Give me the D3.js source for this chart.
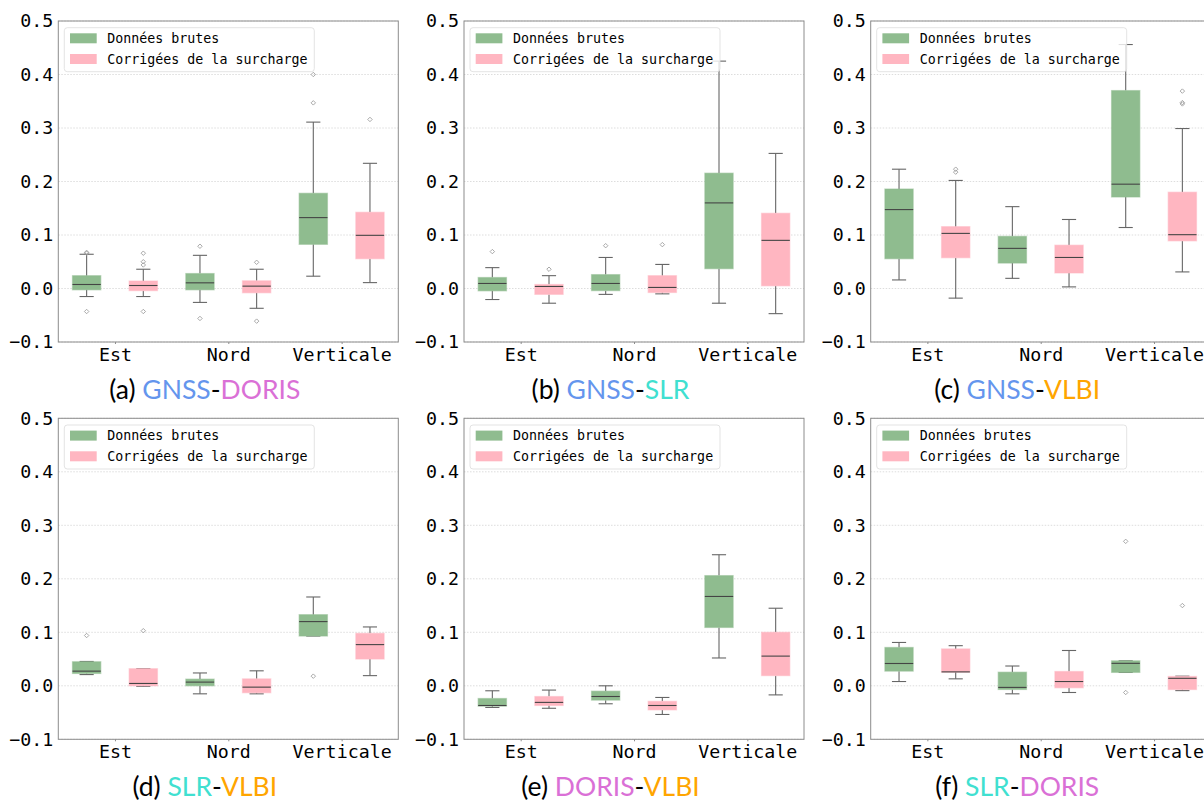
<!DOCTYPE html>
<html>
<head>
<meta charset="utf-8">
<script src="https://cdn.jsdelivr.net/npm/d3@7"></script>
<style>
  body { margin: 0; background: #fff; }
  svg { display: block; }
</style>
</head>
<body>
<div id="chart"></div>
<script>
// categories, series and ticks
const categories = ["Est", "Nord", "Verticale"];
const seriesNames = ["Données brutes", "Corrigées de la surcharge"];
const yTicks = [-0.1, 0.0, 0.1, 0.2, 0.3, 0.4, 0.5];

// panel captions: letter + technique pair
const panelLetters = ["a", "b", "c", "d", "e", "f"];
const panelPairs = [
    ["GNSS", "DORIS"], ["GNSS", "SLR"], ["GNSS", "VLBI"],
    ["SLR", "VLBI"], ["DORIS", "VLBI"], ["SLR", "DORIS"]
];

// box stats per category: [whisker low, q1, median, q3, whisker high]
const gnssDorisRaw = [[-0.015, -0.0025, 0.0075, 0.024, 0.064], [-0.026, -0.0025, 0.0106, 0.028, 0.062], [0.023, 0.0825, 0.1325, 0.178, 0.311]];
const gnssDorisCorr = [[-0.015, -0.004, 0.0056, 0.014, 0.036], [-0.037, -0.008, 0.0044, 0.0144, 0.036], [0.011, 0.0556, 0.0994, 0.1425, 0.234]];
const gnssSlrRaw = [[-0.0206, -0.0044, 0.0094, 0.0206, 0.039], [-0.011, -0.004, 0.0094, 0.026, 0.058], [-0.0275, 0.037, 0.16, 0.2156, 0.425]];
const gnssSlrCorr = [[-0.0275, -0.011, 0.0038, 0.0075, 0.024], [-0.01, -0.0075, 0.002, 0.024, 0.045], [-0.047, 0.005, 0.09, 0.1406, 0.2525]];
const gnssVlbiRaw = [[0.016, 0.0556, 0.1475, 0.186, 0.223], [0.019, 0.0475, 0.075, 0.0975, 0.153], [0.114, 0.171, 0.195, 0.37, 0.456]];
const gnssVlbiCorr = [[-0.018, 0.0575, 0.103, 0.1156, 0.202], [0.003, 0.029, 0.058, 0.081, 0.129], [0.031, 0.089, 0.1006, 0.18, 0.299]];
const slrVlbiRaw = [[0.021, 0.023, 0.0274, 0.045, 0.0455], [-0.015, 0.0, 0.0069, 0.0125, 0.024], [0.093, 0.093, 0.12, 0.133, 0.166]];
const slrVlbiCorr = [[-0.001, 0.0, 0.0044, 0.032, 0.032], [-0.015, -0.013, -0.0025, 0.013, 0.028], [0.019, 0.05, 0.077, 0.098, 0.11]];
const dorisVlbiRaw = [[-0.0405, -0.038, -0.0368, -0.0237, -0.0093], [-0.0336, -0.0268, -0.02, -0.01, 0.0], [0.052, 0.109, 0.167, 0.206, 0.245]];
const dorisVlbiCorr = [[-0.042, -0.0368, -0.031, -0.02, -0.008], [-0.0536, -0.045, -0.0368, -0.029, -0.0218], [-0.017, 0.019, 0.0555, 0.1, 0.145]];
const slrDorisRaw = [[0.008, 0.0274, 0.0417, 0.0717, 0.081], [-0.015, -0.0069, -0.003, 0.0255, 0.037], [0.025, 0.025, 0.042, 0.0467, 0.0467]];
const slrDorisCorr = [[0.013, 0.0255, 0.026, 0.069, 0.075], [-0.0125, -0.0037, 0.008, 0.0268, 0.066], [-0.009, -0.007, 0.014, 0.0175, 0.018]];

// outliers per category
const gnssDorisRawOut = [[0.0675, 0.066, -0.043], [0.079, -0.056], [0.4, 0.347]];
const gnssDorisCorrOut = [[0.066, 0.05, 0.044, -0.043], [0.049, -0.061], [0.316]];
const gnssSlrRawOut = [[0.069], [0.08], []];
const gnssSlrCorrOut = [[0.036], [0.082], []];
const gnssVlbiRawOut = [[], [], []];
const gnssVlbiCorrOut = [[0.223, 0.2175], [], [0.369, 0.3475, 0.345]];
const slrVlbiRawOut = [[0.094], [], [0.018]];
const slrVlbiCorrOut = [[0.103], [], []];
const dorisVlbiRawOut = [[], [], []];
const dorisVlbiCorrOut = [[], [], []];
const slrDorisRawOut = [[], [], [0.27, -0.0125]];
const slrDorisCorrOut = [[], [], [0.15]];

const panelStats = [
    [gnssDorisRaw, gnssDorisCorr], [gnssSlrRaw, gnssSlrCorr], [gnssVlbiRaw, gnssVlbiCorr],
    [slrVlbiRaw, slrVlbiCorr], [dorisVlbiRaw, dorisVlbiCorr], [slrDorisRaw, slrDorisCorr]
];
const panelOutliers = [
    [gnssDorisRawOut, gnssDorisCorrOut], [gnssSlrRawOut, gnssSlrCorrOut], [gnssVlbiRawOut, gnssVlbiCorrOut],
    [slrVlbiRawOut, slrVlbiCorrOut], [dorisVlbiRawOut, dorisVlbiCorrOut], [slrDorisRawOut, slrDorisCorrOut]
];

// styles
const seriesColors = ["#8fbc8f", "#ffb6c1"],
    techColors = { GNSS: "#6495ed", DORIS: "#da70d6", SLR: "#40e0d0", VLBI: "#ffa500" },
    spineColor = "#8c8c8c",
    whiskerColor = "#666",
    medianColor = "#444",
    monoFont = "'DejaVu Sans Mono', monospace",
    captionFont = "Lato, 'Open Sans', sans-serif";

const W = 1204, H = 802;
const plotW = 340, plotH = 321;
const colLeft = [58.3, 464, 870.7],
    rowTop = [21, 418.3];
const offset = 0.25, boxW = 0.25;

var svg = d3.select("#chart").append("svg")
    .attr("width", W)
    .attr("height", H);

panelStats.forEach((stats, p) => {
    const left = colLeft[p % 3], top = rowTop[Math.floor(p / 3)];

    var x = d3.scaleLinear().domain([0.5, 3.5]).range([left, left + plotW]);
    var y = d3.scaleLinear().domain([-0.1, 0.5]).range([top + plotH, top]);
    const unit = x(1) - x(0);

    var g = svg.append("g").attr("class", "panel");

    // horizontal grid
    g.append("g")
        .selectAll("line")
        .data(yTicks)
        .enter()
        .append("line")
        .attr("x1", left).attr("x2", left + plotW)
        .attr("y1", d => y(d)).attr("y2", d => y(d))
        .attr("stroke", "#cfcfcf")
        .attr("stroke-width", 0.7)
        .attr("stroke-dasharray", "1.5,1.5");

    // boxes for both series
    stats.forEach((series, s) => {
        const sg = g.append("g");
        const cx = i => x(i + 1) + (s === 0 ? -offset : offset) * unit;
        const half = boxW * unit / 2;

        // whiskers
        sg.selectAll(".wlo").data(series).enter().append("line")
            .attr("x1", (d, i) => cx(i)).attr("x2", (d, i) => cx(i))
            .attr("y1", d => y(d[0])).attr("y2", d => y(d[1]))
            .attr("stroke", whiskerColor).attr("stroke-width", 1.1);
        sg.selectAll(".whi").data(series).enter().append("line")
            .attr("x1", (d, i) => cx(i)).attr("x2", (d, i) => cx(i))
            .attr("y1", d => y(d[3])).attr("y2", d => y(d[4]))
            .attr("stroke", whiskerColor).attr("stroke-width", 1.1);
        // caps
        [0, 4].forEach(k => {
            sg.selectAll(".cap" + k).data(series).enter().append("line")
                .attr("x1", (d, i) => cx(i) - half / 2).attr("x2", (d, i) => cx(i) + half / 2)
                .attr("y1", d => y(d[k])).attr("y2", d => y(d[k]))
                .attr("stroke", whiskerColor).attr("stroke-width", 1.1);
        });
        // box
        sg.selectAll("rect").data(series).enter().append("rect")
            .attr("x", (d, i) => cx(i) - half)
            .attr("width", half * 2)
            .attr("y", d => y(d[3]))
            .attr("height", d => Math.max(0.5, y(d[1]) - y(d[3])))
            .attr("fill", seriesColors[s])
            .attr("stroke", seriesColors[s])
            .attr("stroke-opacity", 0.5)
            .attr("stroke-width", 1.2);
        // median
        sg.selectAll(".med").data(series).enter().append("line")
            .attr("x1", (d, i) => cx(i) - half).attr("x2", (d, i) => cx(i) + half)
            .attr("y1", d => y(d[2])).attr("y2", d => y(d[2]))
            .attr("stroke", medianColor).attr("stroke-width", 1.1);

        // outliers
        const pts = [];
        panelOutliers[p][s].forEach((vals, i) => vals.forEach(v => pts.push({ i: i, v: v })));
        sg.selectAll("path").data(pts).enter().append("path")
            .attr("d", d3.symbol(d3.symbolSquare, 10))
            .attr("transform", d => "translate(" + cx(d.i) + "," + y(d.v) + ") rotate(45)")
            .attr("fill", "none")
            .attr("stroke", "#999")
            .attr("stroke-width", 0.8);
    });

    // axes
    var yAxis = g.append("g")
        .attr("transform", "translate(" + left + ",0)")
        .call(d3.axisLeft(y).tickValues(yTicks).tickFormat(d3.format(".1f")).tickSize(0).tickPadding(5));
    var xAxis = g.append("g")
        .attr("transform", "translate(0," + (top + plotH) + ")")
        .call(d3.axisBottom(x).tickValues([1, 2, 3]).tickFormat(d => categories[d - 1]).tickSize(2).tickPadding(4));
    [yAxis, xAxis].forEach(a => {
        a.select(".domain").remove();
        a.selectAll("line").attr("stroke", spineColor);
        a.selectAll("text")
            .style("font-family", monoFont)
            .style("font-size", "18.3px")
            .attr("fill", "#000");
    });

    // spines
    g.append("rect")
        .attr("x", left).attr("y", top)
        .attr("width", plotW).attr("height", plotH)
        .attr("fill", "none")
        .attr("stroke", spineColor)
        .attr("stroke-width", 1);

    // legend
    var lg = g.append("g").attr("transform", "translate(" + (left + 6) + "," + (top + 6.7) + ")");
    lg.append("rect")
        .attr("width", 250).attr("height", 44).attr("rx", 3)
        .attr("fill", "#fff").attr("fill-opacity", 0.8)
        .attr("stroke", "#dcdcdc").attr("stroke-width", 0.8);
    seriesNames.forEach((name, s) => {
        lg.append("rect")
            .attr("x", 5.7).attr("y", 5.6 + s * 20.7)
            .attr("width", 26.7).attr("height", 10)
            .attr("fill", seriesColors[s]);
        lg.append("text")
            .attr("x", 43).attr("y", 15.3 + s * 20.7)
            .style("font-family", monoFont)
            .style("font-size", "13.3px")
            .text(name);
    });

    // caption
    const pair = panelPairs[p];
    var cap = svg.append("text")
        .attr("x", left + 146.5)
        .attr("y", top + plotH + 56.5)
        .attr("text-anchor", "middle")
        .style("font-family", captionFont)
        .style("font-size", "26.5px");
    cap.append("tspan").attr("fill", "#000").text("(" + panelLetters[p] + ") ");
    cap.append("tspan").attr("fill", techColors[pair[0]]).text(pair[0]);
    cap.append("tspan").attr("fill", "#000").text("-");
    cap.append("tspan").attr("fill", techColors[pair[1]]).text(pair[1]);
});
</script>
</body>
</html>
